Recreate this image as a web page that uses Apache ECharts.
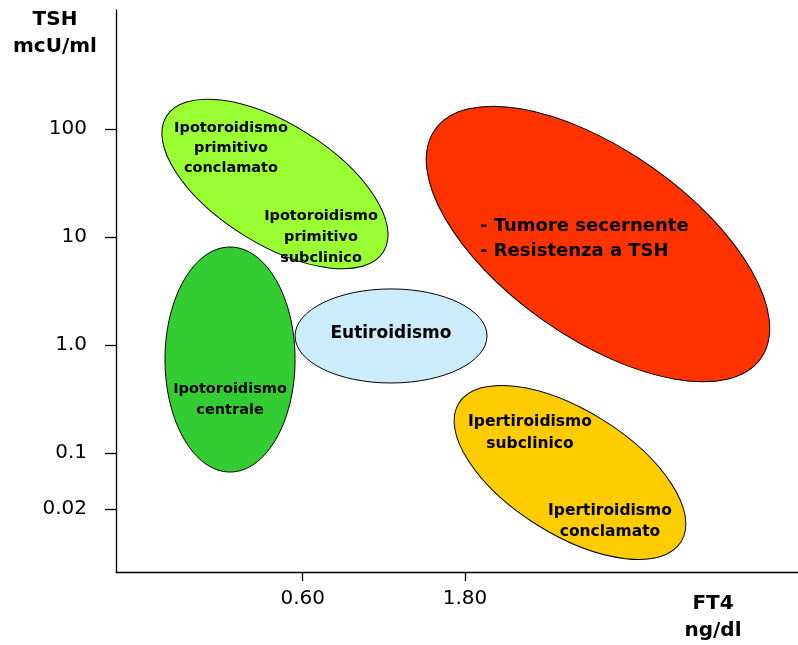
<!DOCTYPE html>
<html>
<head>
<meta charset="utf-8">
<script src="https://cdn.jsdelivr.net/npm/echarts@6/dist/echarts.min.js"></script>
<style>
html,body{margin:0;padding:0;background:#fff;}
#chart{width:798px;height:645px;}
</style>
</head>
<body>
<div id="chart"></div>
<script>
// ---- data (x: FT4 position units, y: log10 TSH position units) ----
const xTickValues = [2.738, 5.117];
const xTickLabels = ['0.60', '1.80'];
const yTickValues = [2, 1, 0, -1, -1.517];
const yTickLabels = ['100', '10', '1.0', '0.1', '0.02'];

const regionNames = ['Ipotoroidismo centrale', 'Ipotoroidismo primitivo', 'Eutiroidismo', 'Tumore / Resistenza', 'Ipertiroidismo'];
// major axis endpoints of each region ellipse, in data units
const majorStart = [[1.672, 0.907], [0.740, 2.117], [2.625, 0.084], [4.677, 1.992], [5.028, -0.537]];
const majorEnd   = [[1.672, -1.175], [3.922, 0.863], [5.440, 0.084], [9.457, -0.122], [8.286, -1.821]];
const minorRatio = [0.578, 0.469, 0.49, 0.472, 0.473];
const regionColors = ['#33CC33', '#99FF33', '#CCECFC', '#FF3300', '#FFCC00'];

const labelTexts = [
  'Ipotoroidismo\nprimitivo\nconclamato',
  'Ipotoroidismo\nprimitivo\nsubclinico',
  'Ipotoroidismo\ncentrale',
  'Eutiroidismo',
  '- Tumore secernente\n- Resistenza a TSH',
  'Ipertiroidismo\nsubclinico',
  'Ipertiroidismo\nconclamato'
];
const labelPos = [[1.686, 1.823], [3.006, 1.0], [1.672, -0.508], [4.032, 0.102], [5.337, 0.986], [6.070, -0.814], [7.243, -1.637]];
const labelSize = [14.5, 14.5, 14.5, 17, 18, 15.5, 15.5];
const labelAlign = ['center', 'center', 'center', 'center', 'left', 'center', 'center'];
const labelLineH = [20, 21, 21, 20, 25, 22, 21];

const FONT = '"DejaVu Sans", sans-serif';

const ellipseData = regionNames.map((n, i) => ({
  name: n,
  value: [majorStart[i][0], majorStart[i][1], majorEnd[i][0], majorEnd[i][1], minorRatio[i]],
  itemStyle: { color: regionColors[i] }
}));
const labelData = labelTexts.map((t, i) => ({ name: t, value: [labelPos[i][0], labelPos[i][1]] }));

const chart = echarts.init(document.getElementById('chart'), null, { renderer: 'canvas' });
chart.setOption({
  animation: false,
  backgroundColor: '#fff',
  grid: { left: 116, right: 0, top: 10, bottom: 73, containLabel: false },
  xAxis: {
    type: 'value', min: 0, max: 10,
    name: 'FT4\nng/dl', nameLocation: 'end', nameGap: -85,
    nameTextStyle: { fontFamily: FONT, fontWeight: 'bold', fontSize: 20, color: '#000', align: 'center', verticalAlign: 'top', lineHeight: 27, padding: [18, 0, 0, 0] },
    axisLine: { show: true, onZero: false, lineStyle: { color: '#000', width: 1.3 } },
    axisTick: { show: true, customValues: xTickValues, length: 9, lineStyle: { color: '#000', width: 1.3 } },
    axisLabel: { customValues: xTickValues, margin: 17, fontFamily: FONT, fontSize: 20, color: '#000',
      formatter: v => { let k = 0; xTickValues.forEach((t, i) => { if (Math.abs(t - v) < Math.abs(xTickValues[k] - v)) k = i; }); return xTickLabels[k]; } },
    splitLine: { show: false }
  },
  yAxis: {
    type: 'value', min: -2.1, max: 3.1,
    name: 'TSH\nmcU/ml', nameLocation: 'end', nameGap: 4,
    nameTextStyle: { fontFamily: FONT, fontWeight: 'bold', fontSize: 20, color: '#000', align: 'center', verticalAlign: 'top', lineHeight: 27, padding: [0, 122, 0, 0] },
    axisLine: { show: true, onZero: false, lineStyle: { color: '#000', width: 1.3 } },
    axisTick: { show: true, customValues: yTickValues, length: 11, lineStyle: { color: '#000', width: 1.3 } },
    axisLabel: { customValues: yTickValues, margin: 29, fontFamily: FONT, fontSize: 20, color: '#000', padding: [0, 0, 12, 0],
      formatter: v => { let k = 0; yTickValues.forEach((t, i) => { if (Math.abs(t - v) < Math.abs(yTickValues[k] - v)) k = i; }); return yTickLabels[k]; } },
    splitLine: { show: false }
  },
  series: [
    {
      type: 'custom',
      data: ellipseData,
      encode: { x: [0, 2], y: [1, 3] },
      renderItem: function (params, api) {
        const p1 = api.coord([api.value(0), api.value(1)]);
        const p2 = api.coord([api.value(2), api.value(3)]);
        const cx = (p1[0] + p2[0]) / 2, cy = (p1[1] + p2[1]) / 2;
        const dx = p2[0] - p1[0], dy = p2[1] - p1[1];
        const a = Math.sqrt(dx * dx + dy * dy) / 2;
        const b = a * api.value(4);
        const ang = Math.atan2(dy, dx);
        return {
          type: 'ellipse',
          x: cx, y: cy, rotation: -ang,
          shape: { cx: 0, cy: 0, rx: a, ry: b },
          style: { fill: api.visual('color'), stroke: '#000', lineWidth: 1 }
        };
      }
    },
    {
      type: 'custom',
      data: labelData,
      encode: { x: 0, y: 1 },
      renderItem: function (params, api) {
        const i = params.dataIndex;
        const p = api.coord([api.value(0), api.value(1)]);
        return {
          type: 'text', x: p[0], y: p[1],
          style: {
            text: labelTexts[i], fill: '#000',
            font: 'bold ' + labelSize[i] + 'px ' + FONT,
            align: labelAlign[i], verticalAlign: 'middle', lineHeight: labelLineH[i]
          }
        };
      }
    }
  ]
});
</script>
</body>
</html>
